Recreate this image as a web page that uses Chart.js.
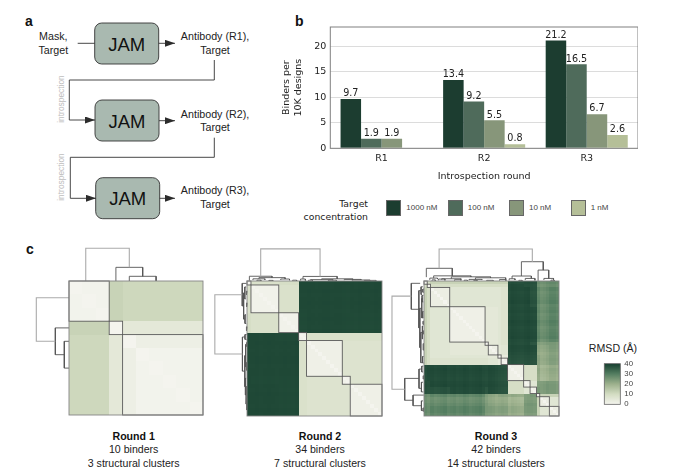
<!DOCTYPE html>
<html>
<head>
<meta charset="utf-8">
<title>Introspection rounds</title>
<script src="https://cdn.jsdelivr.net/npm/chart.js@4/dist/chart.umd.min.js"></script>
<style>
    body { margin: 0; background: #fff; font-family: "Liberation Sans", sans-serif; color: #222; }
    #page { position: relative; width: 689px; height: 473px; overflow: hidden; }
    canvas, svg { position: absolute; }
    .t { position: absolute; white-space: nowrap; line-height: 13.3px; }
    .panel { font-weight: bold; font-size: 14px; color: #111; }
    .caption { font-size: 10.6px; text-align: center; width: 140px; }
    .caption b { color: #111; }
    .legendText { font-size: 8px; color: #444; }
    .swatch { position: absolute; width: 13px; height: 13.5px; border: 0.8px solid #666; }
</style>
</head>
<body>
<div id="page">
    <svg width="270" height="230" style="left:0;top:0" font-family="Liberation Sans" fill="#222">
        <defs>
            <marker id="head" markerUnits="userSpaceOnUse" markerWidth="10" markerHeight="7" refX="10" refY="3.5" orient="auto">
                <path d="M0 0 L10 3.5 L0 7 Z" fill="#2c2c2c"></path>
            </marker>
        </defs>
        <g fill="#a9b9b0" stroke="#333" stroke-width="0.9">
            <rect x="94.7" y="23" width="64" height="41" rx="7"></rect>
            <rect x="95" y="100" width="64" height="41" rx="7"></rect>
            <rect x="95.7" y="177.7" width="64" height="41" rx="7"></rect>
        </g>
        <g font-size="18.5" text-anchor="middle" fill="#111">
            <text x="126.7" y="50.5">JAM</text>
            <text x="127" y="127.5">JAM</text>
            <text x="127.7" y="205">JAM</text>
        </g>
        <g fill="none" stroke="#333" stroke-width="0.9">
            <path d="M77.7 43.3 H94.7"></path>
            <path d="M158.7 43.3 H175" marker-end="url(#head)"></path>
            <path d="M159 120.7 H175" marker-end="url(#head)"></path>
            <path d="M159.7 198.3 H175" marker-end="url(#head)"></path>
            <path d="M214.3 60 V80 H69.3 V120 H95" marker-end="url(#head)"></path>
            <path d="M214.3 137.7 V157.3 H70.3 V198.3 H96" marker-end="url(#head)"></path>
        </g>
        <g font-size="10.7" text-anchor="middle">
            <text x="53.3" y="40.3">Mask,</text>
            <text x="53.3" y="53.7">Target</text>
            <text x="215" y="40.3">Antibody (R1),</text>
            <text x="215" y="53.7">Target</text>
            <text x="215" y="117.5">Antibody (R2),</text>
            <text x="215" y="130.8">Target</text>
            <text x="215" y="194.3">Antibody (R3),</text>
            <text x="215" y="207.7">Target</text>
        </g>
        <g font-size="8.4" text-anchor="middle" fill="#bdbdbd">
            <text transform="translate(63.5 99) rotate(-90)">introspection</text>
            <text transform="translate(63.5 177) rotate(-90)">introspection</text>
        </g>
    </svg>

    <div class="t panel" style="left:25px;top:15px">a</div>
    <div class="t panel" style="left:295px;top:15px">b</div>
    <div class="t panel" style="left:26px;top:243px">c</div>

    <canvas id="barChart" width="368" height="182" style="left:270px;top:0"></canvas>

    <div id="legend"></div>

    <canvas id="round1" style="left:0;top:0"></canvas>
    <canvas id="round2" style="left:0;top:0"></canvas>
    <canvas id="round3" style="left:0;top:0"></canvas>
    <canvas id="rmsdBar" width="50" height="58" style="left:600px;top:355px"></canvas>

    <div class="t" style="left:575px;top:342px;width:76px;text-align:center;font-size:10.6px">RMSD (Å)</div>
    <div id="captions"></div>
</div>

<script>
// BarChart - Binders per 10K designs
const rounds = ['R1', 'R2', 'R3'];
const binderTicks = [0, 5, 10, 15, 20];
const concentrations = ['1000 nM', '100 nM', '10 nM', '1 nM'];
const binders1000 = [9.7, 13.4, 21.2];
const binders100 = [1.9, 9.2, 16.5];
const binders10 = [1.9, 5.5, 6.7];
const binders1 = [null, 0.8, 2.6];
const barColors = ['#1c3d30', '#4f6b5b', '#87967a', '#b5bf98'];

// Heatmaps - RMSD between binders
const rmsdTicks = [0, 10, 20, 30, 40];
const rmsdStops = [[0, '#f4f4ee'], [10, '#d3dcc2'], [20, '#9cb08c'], [30, '#537d60'], [40, '#163f2f']];

const captionTitles = ['Round 1', 'Round 2', 'Round 3'];
const captionBinders = ['10 binders', '34 binders', '42 binders'];
const captionClusters = ['3 structural clusters', '7 structural clusters', '14 structural clusters'];

const round1Bands = [3, 1, 1, 5];
const round1Clusters = [3, 1, 6];
const round1Values = [
    [0.5, 12, 11, 11],
    [12, 0.5, 5, 5],
    [11, 5, 0.5, 2],
    [11, 5, 2, 0.5]
];
const round1Shade = [0, 0, 0, 0, 0, 0, 0, 0, 0, 0];
// left position, right position, merge height, left child height, right child height
const round1Merges = [
    [1.25, 4.5, 2.44, 0, 1.02],
    [3.5, 5.5, 1.02, 0, 0.35],
    [4.5, 6.5, 0.35, 0, 0]
];

const round2Clusters = [1, 7, 5, 2, 9, 2, 8];
const round2Values = [
    [0, 8, 9, 38.5, 38.5, 38.5, 38.5],
    [8, 1, 8, 38.5, 38.5, 38.3, 38.5],
    [9, 8, 1, 38.3, 38.5, 38.3, 38.3],
    [38.5, 38.5, 38.3, 1, 8, 8, 8],
    [38.5, 38.5, 38.5, 8, 1.5, 7, 7],
    [38.5, 38.3, 38.3, 8, 7, 1, 7],
    [38.5, 38.5, 38.3, 8, 7, 7, 1.5]
];
const round2Shade = [
    0, 0, 0.2, -0.2, 0, 0.2, 0, -0.2, 0, 0.2, 0, -0.2, 0.2, 0, 0, 0.2, 0,
    -0.2, 0, 0.2, 0.2, -0.2, 0, 0, 0.2, 0, 0, -0.2, 0.2, 0, 0, -0.2, 0.2, 0
];
const round2Merges = [
    [3.45, 18.4, 8.1, 1.2, 1.15],
    [0.6, 6.3, 1.2, 0.1, 0.85],
    [3, 9.6, 0.85, 0.55, 0.5],
    [1.5, 4.5, 0.55, 0.2, 0.3],
    [8.5, 10.7, 0.5, 0.25, 0.2],
    [14.1, 22.7, 1.15, 0.5, 0.55],
    [13.5, 14.7, 0.5, 0.1, 0.1],
    [18.8, 26.6, 0.55, 0.35, 0.4],
    [16, 21.6, 0.35, 0.2, 0.2],
    [24.5, 28.7, 0.4, 0.2, 0.25],
    [26.5, 31, 0.25, 0.1, 0.15],
    [29.5, 32.5, 0.15, 0.05, 0.05],
    [2.5, 3.5, 0.2, 0, 0],
    [5.5, 6.5, 0.15, 0, 0],
    [11.5, 12.5, 0.2, 0, 0],
    [15.5, 16.5, 0.2, 0, 0],
    [20.5, 22.5, 0.2, 0, 0]
];

const round3Clusters = [1, 1, 6, 11, 1, 3, 1, 2, 5, 2, 2, 1, 3, 3];
const round3Values = [
    [0, 9, 12, 12, 12, 12, 12, 12, 37, 37, 37, 26, 26, 26],
    [9, 0, 9, 9, 9, 9, 9, 9, 38, 37, 37, 26, 26, 26],
    [12, 9, 2.5, 6, 6, 6, 6, 7, 38, 38, 37, 28, 27, 28],
    [12, 9, 6, 1.5, 5, 5, 6, 7, 38, 38, 38, 28, 27, 28],
    [12, 9, 6, 5, 0, 5, 6, 7, 38, 38, 37, 25, 25, 25],
    [12, 9, 6, 5, 5, 2, 5, 6, 38, 38, 38, 22, 22, 23],
    [12, 9, 6, 6, 6, 5, 0, 4, 37, 37, 37, 22, 21, 22],
    [12, 9, 7, 7, 7, 6, 4, 1.5, 37, 37, 37, 23, 22, 23],
    [37, 38, 38, 38, 38, 38, 37, 37, 1.5, 9, 9, 21, 19, 20],
    [37, 37, 38, 38, 38, 38, 37, 37, 9, 1.5, 6, 23, 24, 23],
    [37, 37, 37, 38, 37, 38, 37, 37, 9, 6, 1.5, 25, 25, 24],
    [26, 26, 28, 28, 25, 22, 22, 23, 21, 23, 25, 0, 12, 12],
    [26, 26, 27, 27, 25, 22, 21, 22, 19, 24, 25, 12, 2.5, 6],
    [26, 26, 28, 28, 25, 23, 22, 23, 20, 23, 24, 12, 6, 2.5]
];
const round3Shade = [
    1, 0, 0.5, -0.5, 0, 0.5, 1, -0.5, 0, 0.5, -0.5, 0, 1, 0.5, -0.5, 0, 0.5, 1, -0.5, -1, 0.5,
    0, -1, 0.5, 0, -0.5, 0, 1, 0.5, 0, -0.5, 0.5, 1, 0, -0.5, 0, -1, -0.5, 0.5, 1, 1, 0
];
const round3Merges = [
    [4.7, 33.7, 9.96, 3.95, 6],
    [0.72, 8.8, 3.95, 1.2, 1.6],
    [3, 14.6, 1.6, 0.9, 1.3],
    [1.8, 4.2, 0.9, 0.35, 0.6],
    [8.5, 20.7, 1.3, 0.7, 1],
    [5.5, 11.5, 0.7, 0.4, 0.45],
    [16, 25.4, 1, 0.5, 0.45],
    [14, 18, 0.5, 0.2, 0.3],
    [23.5, 25.5, 0.45, 0.1, 0.1],
    [30.3, 37.1, 6, 1.55, 3.4],
    [27.4, 33.4, 1.55, 0.7, 0.8],
    [26.5, 28.3, 0.7, 0.2, 0.3],
    [31.5, 34.5, 0.8, 0.3, 0.2],
    [35.5, 38.8, 3.4, 0.05, 0.8],
    [37.3, 40.3, 0.8, 0.3, 0.4],
    [2.5, 3.5, 0.35, 0.05, 0.05],
    [4.5, 6.5, 0.6, 0.2, 0.2],
    [9.5, 11.5, 0.4, 0.1, 0.2],
    [12.5, 13.5, 0.25, 0, 0],
    [15.5, 16.5, 0.2, 0, 0],
    [19.5, 21.5, 0.2, 0, 0],
    [29.5, 30.5, 0.2, 0, 0],
    [39.5, 40.5, 0.25, 0, 0]
];

// Same look for every chart
Chart.defaults.animation = false;
Chart.defaults.responsive = false;
Chart.defaults.plugins.legend.display = false;
Chart.defaults.plugins.tooltip.enabled = false;

const barFont = { family: 'DejaVu Sans', size: 9.5 };

const plotFrame = {
    id: 'plotFrame',
    afterDatasetsDraw(chart) {
        const { ctx, chartArea: a } = chart;
        ctx.save();
        ctx.strokeStyle = '#808080';
        ctx.lineWidth = 1;
        ctx.strokeRect(a.left, a.top, a.width, a.height);
        ctx.restore();
    }
};

const barLabels = {
    id: 'barLabels',
    afterDatasetsDraw(chart) {
        const { ctx } = chart;
        ctx.save();
        ctx.font = '9.6px "DejaVu Sans"';
        ctx.fillStyle = '#222';
        ctx.textAlign = 'center';
        ctx.textBaseline = 'bottom';
        chart.data.datasets.forEach((ds, i) => {
            chart.getDatasetMeta(i).data.forEach((bar, j) => {
                if (ds.data[j] !== null) ctx.fillText(ds.data[j].toFixed(1), bar.x, bar.y - 0.5);
            });
        });
        ctx.restore();
    }
};

const barSeries = [binders1000, binders100, binders10, binders1];
new Chart(document.getElementById('barChart'), {
    type: 'bar',
    data: {
        labels: rounds,
        datasets: barSeries.map((values, i) => ({
            label: concentrations[i],
            data: values,
            backgroundColor: barColors[i],
            barPercentage: 1,
            categoryPercentage: 0.8
        }))
    },
    options: {
        layout: { padding: { top: 27, right: 0, left: 10.5, bottom: 0 } },
        scales: {
            x: {
                afterFit(axis) { axis.height = 33.7; },
                grid: { display: false, drawTicks: false },
                border: { display: false },
                ticks: { font: barFont, color: '#222', padding: 5 },
                title: { display: true, text: 'Introspection round', font: barFont, color: '#222', padding: { top: 7, bottom: 0 } }
            },
            y: {
                min: 0,
                max: 23.84,
                afterFit(axis) { axis.width = 49.8; },
                afterBuildTicks(axis) { axis.ticks = binderTicks.map(v => ({ value: v })); },
                grid: { color: '#dcdcdc', drawTicks: false },
                border: { display: false },
                ticks: { font: barFont, color: '#222', padding: 4 },
                title: { display: true, text: ['Binders per', '10K designs'], font: Object.assign({}, barFont, { lineHeight: 1.25 }), color: '#222', padding: 0 }
            }
        }
    },
    plugins: [plotFrame, barLabels]
});

// Legend sits under the bars, its labels come from the series names
const legendBox = document.getElementById('legend');
legendBox.innerHTML = '<div class="t" style="left:270px;top:197px;width:98px;text-align:right;font-family:DejaVu Sans;font-size:9.3px">Target<br>concentration</div>';
const legendLeft = [386.3, 447.8, 509, 570.7];
concentrations.forEach((name, i) => {
    legendBox.innerHTML += '<div class="swatch" style="left:' + legendLeft[i] + 'px;top:200.3px;background:' + barColors[i] + '"></div>'
        + '<div class="t legendText" style="left:' + (legendLeft[i] + 20) + 'px;top:201px">' + name + '</div>';
});

// Captions under the heatmaps
const captionCentre = [133.7, 320, 496];
document.getElementById('captions').innerHTML = captionTitles.map((title, i) =>
    '<div class="t caption" style="left:' + (captionCentre[i] - 70) + 'px;top:430px"><b>' + title + '</b><br>'
    + captionBinders[i] + '<br>' + captionClusters[i] + '</div>').join('');

function hexToRgb(hex) {
    return [1, 3, 5].map(i => parseInt(hex.substr(i, 2), 16));
}

function rmsdColor(v) {
    v = Math.min(40, Math.max(0, v));
    for (let i = 1; i < rmsdStops.length; i++) {
        if (v <= rmsdStops[i][0]) {
            const t = (v - rmsdStops[i - 1][0]) / (rmsdStops[i][0] - rmsdStops[i - 1][0]);
            const a = hexToRgb(rmsdStops[i - 1][1]);
            const b = hexToRgb(rmsdStops[i][1]);
            return 'rgb(' + a.map((c, k) => Math.round(c + (b[k] - c) * t)).join(',') + ')';
        }
    }
    return rmsdStops[rmsdStops.length - 1][1];
}

// Band index of every binder, e.g. [3, 1] -> [0, 0, 0, 1]
function bandOf(bands) {
    const out = [];
    bands.forEach((size, b) => { for (let k = 0; k < size; k++) out.push(b); });
    return out;
}

const heatCells = {
    id: 'heatCells',
    beforeDatasetsDraw(chart, args, opts) {
        const { ctx, scales: { x, y } } = chart;
        const band = bandOf(opts.bands);
        const n = band.length;
        ctx.save();
        for (let i = 0; i < n; i++) {
            for (let j = 0; j < n; j++) {
                let v = opts.values[band[i]][band[j]];
                // striping shows in the mid greens, barely in the darkest blocks
                if (v > 30) v += (opts.shade[i] + opts.shade[j]) * 0.4;
                else if (v > 15) v += opts.shade[i] + opts.shade[j];
                if (i === j) v = 0;
                const x0 = Math.round(x.getPixelForValue(j));
                const x1 = Math.round(x.getPixelForValue(j + 1));
                const y0 = Math.round(y.getPixelForValue(i));
                const y1 = Math.round(y.getPixelForValue(i + 1));
                ctx.fillStyle = rmsdColor(v);
                ctx.fillRect(x0, y0, x1 - x0, y1 - y0);
            }
        }
        ctx.restore();
    },
    afterDatasetsDraw(chart, args, opts) {
        const { ctx, scales: { x, y } } = chart;
        const n = opts.clusters.reduce((a, b) => a + b, 0);
        ctx.save();
        ctx.lineWidth = 0.9;
        ctx.strokeStyle = '#5c5c5c';
        let at = 0;
        opts.clusters.forEach(size => {
            const x0 = x.getPixelForValue(at);
            const y0 = y.getPixelForValue(at);
            ctx.strokeRect(x0, y0, x.getPixelForValue(at + size) - x0, y.getPixelForValue(at + size) - y0);
            at += size;
        });
        ctx.strokeStyle = '#858585';
        const left = x.getPixelForValue(0);
        const top = y.getPixelForValue(0);
        ctx.strokeRect(left, top, x.getPixelForValue(n) - left, y.getPixelForValue(n) - top);
        ctx.restore();
    }
};

function drawHeatmap(id, box, bands, clusters, values, shade, merges) {
    const n = shade.length;
    const cell = box.size / n;
    const reach = box.reach / cell;
    const canvas = document.getElementById(id);
    canvas.width = box.size + box.reach + 2;
    canvas.height = box.size + box.reach + 2;
    canvas.style.left = (box.left - box.reach - 1) + 'px';
    canvas.style.top = (box.top - box.reach - 1) + 'px';

    // every merge is drawn twice, the tree is the same along the top and the left
    const datasets = [];
    merges.forEach((m, i) => {
        const [a, b, h, ha, hb] = m;
        const style = {
            showLine: true,
            pointRadius: 0,
            borderWidth: i === 0 ? 1.1 : 0.9,
            borderColor: i === 0 ? '#aaaaaa' : '#555555',
            clip: false
        };
        datasets.push(Object.assign({ data: [{ x: a, y: -ha }, { x: a, y: -h }, { x: b, y: -h }, { x: b, y: -hb }] }, style));
        datasets.push(Object.assign({ data: [{ x: -ha, y: a }, { x: -h, y: a }, { x: -h, y: b }, { x: -hb, y: b }] }, style));
    });

    new Chart(canvas, {
        type: 'scatter',
        data: { datasets },
        options: {
            layout: { padding: 1 },
            scales: {
                x: { display: false, min: -reach, max: n },
                y: { display: false, min: -reach, max: n, reverse: true }
            },
            plugins: { heatCells: { bands, clusters, values, shade } }
        },
        plugins: [heatCells]
    });
}

drawHeatmap('round1', { left: 69, top: 281, size: 134, reach: 33 }, round1Bands, round1Clusters, round1Values, round1Shade, round1Merges);
drawHeatmap('round2', { left: 247, top: 281, size: 135, reach: 33 }, round2Clusters, round2Clusters, round2Values, round2Shade, round2Merges);
drawHeatmap('round3', { left: 424, top: 281, size: 135, reach: 33 }, round3Clusters, round3Clusters, round3Values, round3Shade, round3Merges);

// Colour bar
const rmsdGradient = {
    id: 'rmsdGradient',
    beforeDatasetsDraw(chart) {
        const { ctx, chartArea: a, scales: { y } } = chart;
        const g = ctx.createLinearGradient(0, y.getPixelForValue(0), 0, y.getPixelForValue(40));
        rmsdStops.forEach(s => g.addColorStop(s[0] / 40, s[1]));
        ctx.save();
        ctx.fillStyle = g;
        ctx.fillRect(a.left, a.top, a.width, a.height);
        ctx.strokeStyle = '#666';
        ctx.lineWidth = 0.8;
        ctx.strokeRect(a.left, a.top, a.width, a.height);
        ctx.restore();
    }
};

new Chart(document.getElementById('rmsdBar'), {
    type: 'bar',
    data: { labels: [''], datasets: [{ data: [] }] },
    options: {
        layout: { padding: { left: 4.3, top: 8.3, bottom: 8.3, right: 0 } },
        scales: {
            x: { display: false },
            y: {
                position: 'right',
                min: 0,
                max: 40,
                afterFit(axis) { axis.width = 29.7; },
                afterBuildTicks(axis) { axis.ticks = rmsdTicks.map(v => ({ value: v })); },
                grid: { display: false, drawTicks: false },
                border: { display: false },
                ticks: { autoSkip: false, font: { family: 'Liberation Sans', size: 7.8 }, color: '#444', padding: 4 }
            }
        }
    },
    plugins: [rmsdGradient]
});
</script>
</body>
</html>
